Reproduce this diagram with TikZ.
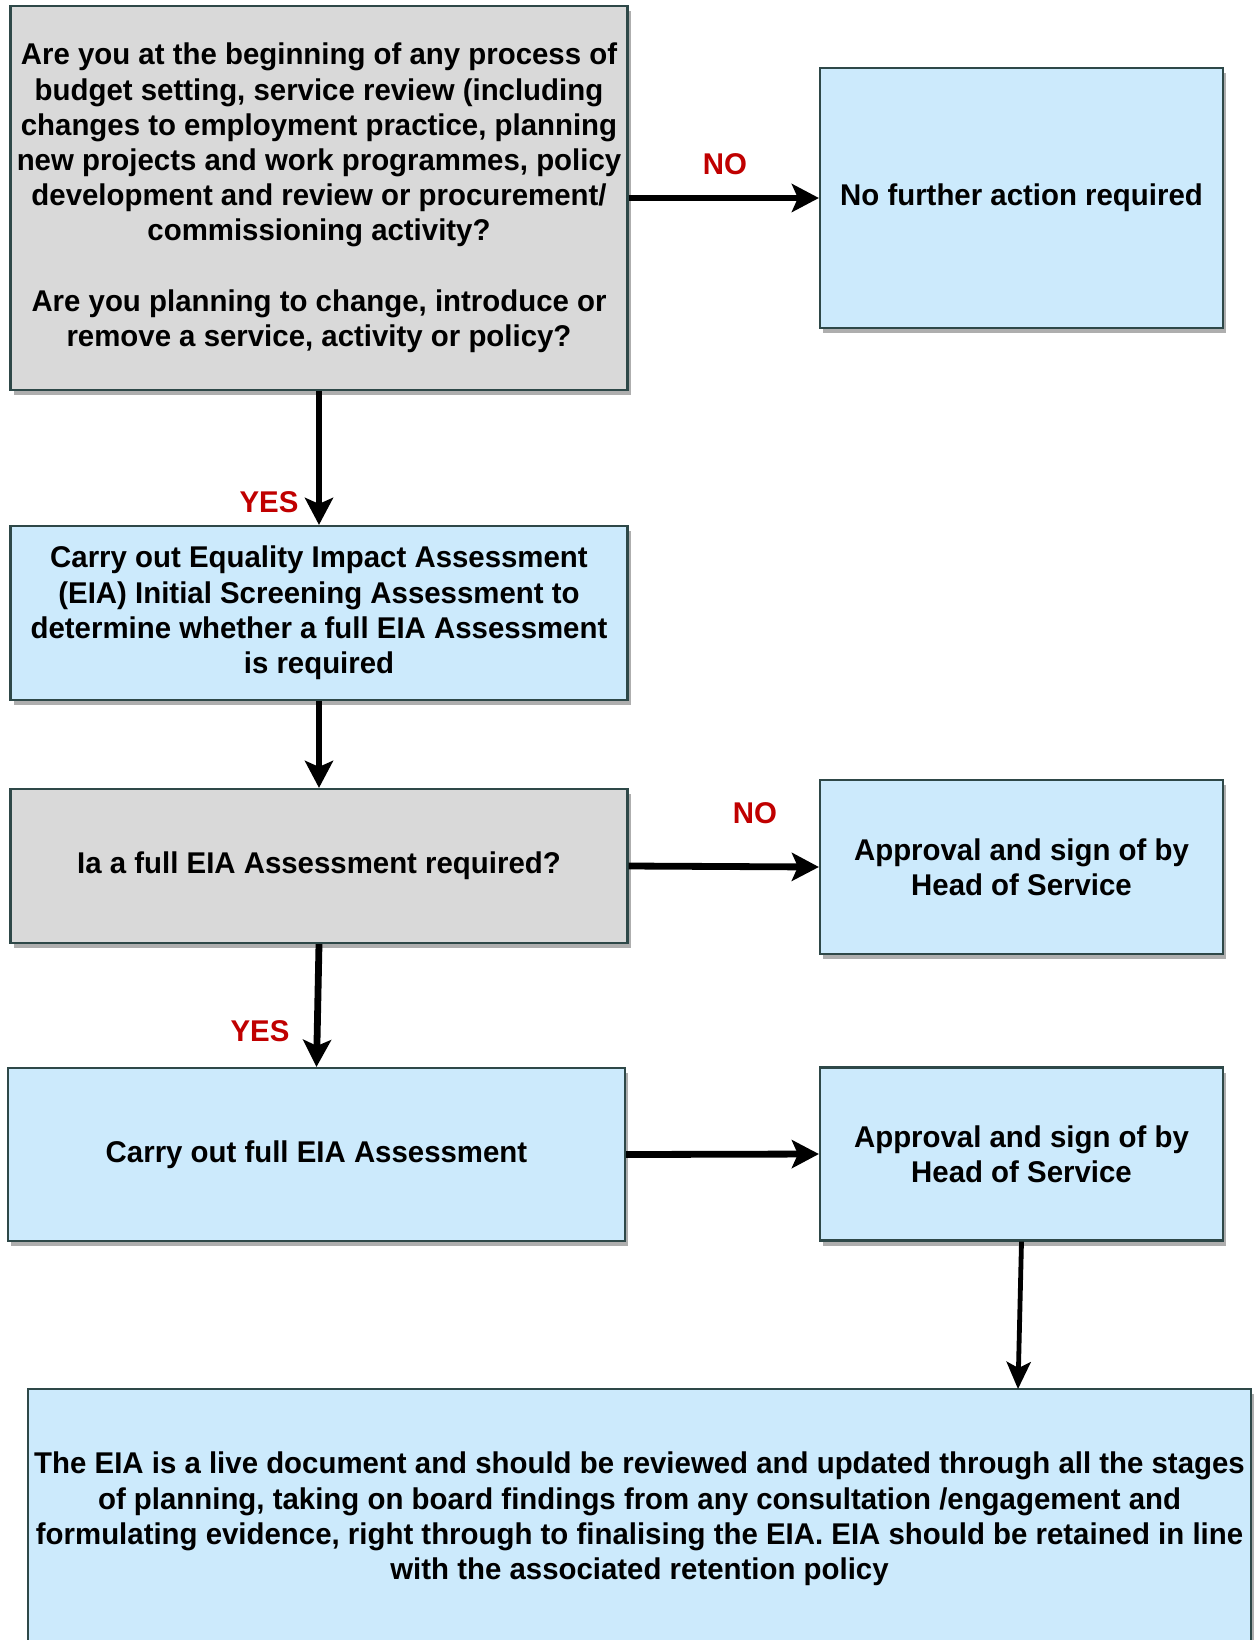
\documentclass[tikz,border=0pt]{standalone}
\usepackage{fontspec}
\setmainfont[FakeStretch=0.98]{Liberation Sans}
\usetikzlibrary{shadows,arrows.meta}
\definecolor{boxgray}{HTML}{D9D9D9}
\definecolor{boxblue}{HTML}{CCEAFC}
\definecolor{edgecol}{HTML}{2E4848}
\definecolor{lblred}{HTML}{C00000}
\begin{document}
\begin{tikzpicture}[x=0.5pt,y=-0.5pt,
  box/.style={draw=edgecol,line width=1.1pt,inner sep=0pt,align=center,
    font=\bfseries\fontsize{15}{17.6}\selectfont,
    drop shadow={shadow xshift=1.5pt,shadow yshift=-2.5pt,opacity=0.45,fill=black!70}},
  graybox/.style={box,fill=boxgray},
  bluebox/.style={box,fill=boxblue},
  conn/.style={line width=3.4pt,-{Stealth[length=13.5pt,width=14pt,inset=3pt]}},
  thinconn/.style={line width=2.4pt,-{Stealth[length=13.5pt,width=12pt,inset=3pt]}},
  lbl/.style={text=lblred,font=\bfseries\fontsize{15}{17.6}\selectfont,inner sep=0pt}]
\useasboundingbox (0,0) rectangle (1254,1640);
\fill[white] (0,0) rectangle (1254,1640);

\node[graybox,minimum width=308.5pt,minimum height=192pt] (b1) at (319,198)
  {Are you at the beginning of any process of\\budget setting, service review (including\\changes to employment practice, planning\\new projects and work programmes, policy\\development and review or procurement/\\commissioning activity?\\[17.6pt]Are you planning to change, introduce or\\remove a service, activity or policy?};
\node[bluebox,minimum width=201.5pt,minimum height=130pt] (nf) at (1021.5,198)
  {No further action required};
\node[bluebox,minimum width=308.5pt,minimum height=87pt] (scr) at (319,613)
  {Carry out Equality Impact Assessment\\(EIA) Initial Screening Assessment to\\determine whether a full EIA Assessment\\is required};
\node[graybox,minimum width=308.5pt,minimum height=77pt] (q2) at (319,866)
  {Ia a full EIA Assessment required?};
\node[bluebox,minimum width=201.5pt,minimum height=87pt] (a1) at (1021.5,867)
  {Approval and sign of by\\Head of Service};
\node[bluebox,minimum width=308.5pt,minimum height=86.5pt] (full) at (316.5,1154.5)
  {Carry out full EIA Assessment};
\node[bluebox,minimum width=201.5pt,minimum height=86.5pt] (a2) at (1021.5,1154)
  {Approval and sign of by\\Head of Service};
\node[bluebox,minimum width=611.5pt,minimum height=130pt] (bot) at (639.5,1519)
  {The EIA is a live document and should be reviewed and updated through all the stages\\of planning, taking on board findings from any consultation /engagement and\\formulating evidence, right through to finalising the EIA. EIA should be retained in line\\with the associated retention policy};
\coordinate (botin) at (1018,1389);

\draw[conn] (b1.east) -- (nf.west);
\draw[conn] (b1.south) -- (scr.north);
\draw[conn] (scr.south) -- (q2.north);
\draw[conn] (q2.east) -- (a1.west);
\draw[conn] (q2.south) -- (full.north);
\draw[conn] (full.east) -- (a2.west);
\draw[thinconn] (a2.south) -- (botin);

\node[lbl] (no1) at (725,164) {NO};
\node[lbl] (yes1) at (269,502) {YES};
\node[lbl] (no2) at (755,813) {NO};
\node[lbl] (yes2) at (260,1031) {YES};
\end{tikzpicture}
\end{document}
